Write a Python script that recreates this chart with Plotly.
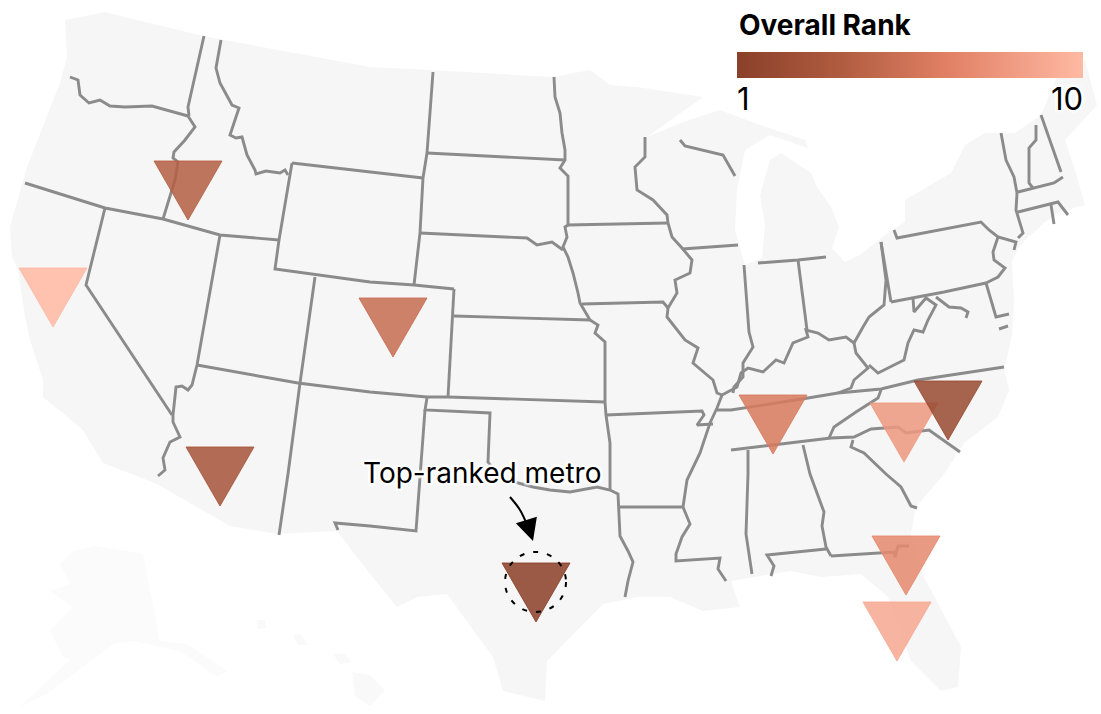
import plotly.graph_objects as go
from plotly.colors import sample_colorscale

# ---- data (map coordinates, y grows downward) ----
metro_names = ["Austin", "Raleigh", "Phoenix", "Boise", "Denver", "Nashville",
               "Jacksonville", "Charlotte", "Tampa", "San Francisco"]
metro_rank = [1, 2, 3, 4, 5, 6, 7, 8, 9, 10]
metro_x = [536, 948, 220, 188, 393, 773, 906, 904, 897, 53]
metro_y = [563, 381, 447, 161, 298, 395, 536, 403, 602, 268]

rank_scale = [[0, "#8a4029"], [0.3, "#b05c40"], [0.6, "#e07f63"], [1, "#ffb9a3"]]

land_conus = [(65,20),(105,12),(203,36),(370,67),(430,70),(553,77),(590,70),(610,85),(637,87),(703,97),(647,137),(683,122),
 (720,110),(760,125),(805,140),(808,148),(770,135),(745,150),(737,190),(735,230),(745,265),(762,258),(765,225),(760,195),
 (770,160),(781,153),(811,173),(817,187),(831,207),(839,227),(832,248),(845,262),(860,255),(885,235),(905,222),(905,200),
 (951,173),(965,145),(985,133),(1015,133),(1041,115),(1060,70),(1085,60),(1097,105),(1065,140),(1075,170),(1085,205),(1060,212),
 (1045,222),(1020,245),(1012,262),(1014,300),(1012,335),(1004,370),(1009,390),(998,417),(964,443),(944,474),(916,507),
 (911,534),(924,577),(961,647),(958,687),(941,691),(911,661),(888,597),(861,574),(821,577),(791,571),(731,581),(740,607),
 (703,611),(670,597),(637,597),(603,604),(547,661),(545,701),(503,691),(493,657),(467,621),(447,594),(417,597),(397,607),
 (370,574),(360,561),(337,531),(277,534),(230,526),(157,484),(103,463),(83,430),(43,397),(43,380),(30,340),(25,317),
 (18,270),(12,257),(10,227),(27,167),(60,83),(67,57)]
land_alaska = [(73,551),(95,546),(143,554),(160,641),(187,644),(227,671),(217,677),(180,651),(133,641),(113,644),(83,667),
 (47,694),(20,707),(70,660),(63,657),(50,631),(73,607),(50,591),(70,584),(60,564)]
land_hawaii_a = [(256,620),(265,620),(266,628),(258,629)]
land_hawaii_b = [(293,635),(300,634),(308,645),(298,645)]
land_hawaii_c = [(333,654),(345,654),(351,662),(340,664)]
land_hawaii_d = [(352,672),(370,675),(385,690),(370,706),(355,696)]

wa_or = [(70,77),(78,80),(80,95),(89,103),(100,100),(110,106),(125,107),(152,106),(188,116)]
wa_id = [(204,36),(188,107),(189,116)]
or_id = [(188,116),(195,127),(185,140),(174,152),(173,158),(178,162),(175,180),(163,219)]
id_mt = [(221,40),(216,68),(220,83),(232,105),(239,108),(233,125),(230,135),(236,138),(242,137),(247,155),(255,170),(256,174),(266,171),(280,173),(285,170),(288,175)]
mt_wy = [(292,163),(423,178)]
wy_west = [(292,163),(279,240),(275,269),(370,282),(414,285),(454,289)]
mt_dakotas = [(433,72),(427,153),(423,178),(420,233),(414,285)]
oregon_south = [(25,183),(105,208),(163,219),(220,235),(279,240)]
nv_ca = [(105,208),(86,285),(172,415)]
ut_west = [(220,235),(197,365),(192,385),(188,390),(182,386),(176,387),(173,415),(173,422),(180,437),(170,442),(163,458),(165,470),(158,476)]
four_corners_lat = [(197,365),(298,383),(370,392),(427,397),(448,397),(605,402)]
ut_co = [(315,277),(300,383),(288,474),(279,535)]
co_east = [(454,289),(448,397)]
ne_ks = [(454,316),(590,320)]
ks_mo = [(590,320),(598,325),(595,333),(605,342),(605,402),(606,415),(610,443),(610,490)]
ok_panhandle = [(427,398),(425,410),(490,413),(488,462),(500,478),(533,487),(550,490),(570,492),(597,487),(610,490),(618,494),(620,536),(628,551),(633,562),(628,581),(625,597)]
nm_east = [(425,410),(420,481),(416,531),(370,526),(335,523),(338,530)]
ar_tx = [(620,507),(683,507)]
la_ms = [(683,507),(690,524),(682,537),(676,554),(676,561),(720,558),(718,569),(726,581)]
mo_ar = [(606,415),(702,411),(704,415),(697,425),(713,424)]
mn_dakotas = [(554,77),(555,97),(560,113),(562,133),(565,150),(565,160),(560,168),(568,176),(568,225),(565,227),(567,237),(563,247),(568,257),(573,273),(578,293),(580,303),(590,320)]
nd_sd = [(427,153),(565,160)]
sd_ne = [(420,233),(527,238),(537,245),(552,242),(563,250)]
ia_north = [(567,225),(668,223)]
mn_wi = [(645,137),(645,157),(635,167),(637,190),(653,200),(667,215),(668,223)]
wi_mi = [(680,140),(685,146),(723,155),(730,167),(735,176)]
mississippi = [(668,223),(672,237),(682,248),(692,260),(690,273),(675,280),(677,293),(668,308),(667,317),(685,340),(698,348),(693,363),(713,380),(717,393),(722,395),(717,408),(710,423),(700,453),(687,480),(683,507)]
ia_mo = [(582,304),(663,302),(668,308)]
il_wi = [(682,249),(738,245)]
il_in = [(744,265),(749,332),(753,347),(743,363),(743,377),(734,387),(733,393)]
ohio_river = [(722,395),(737,387),(741,373),(748,368),(763,372),(776,360),(784,363),(793,343),(808,337),(806,330),(818,333),(829,340),(846,337),(854,343),(863,327),(869,317),(884,305),(886,280),(881,242)]
tn_north = [(717,410),(731,410),(808,398),(838,393),(881,389),(918,380),(1004,367)]
ky_va = [(838,393),(851,388),(854,380),(868,368),(856,353),(854,343)]
wv_va = [(869,365),(878,373),(894,365),(904,360),(908,343),(914,330),(923,332),(928,320),(936,305),(926,298),(914,312),(913,298)]
pa_south = [(891,302),(944,292),(986,283)]
pa_west = [(881,242),(891,302)]
ny_south = [(894,230),(897,238),(981,222),(989,230),(998,237),(1016,242),(1014,250)]
pa_nj = [(998,237),(993,252),(994,260),(1005,268),(998,277),(986,283)]
de_md = [(986,283),(996,317),(1009,314)]
md_va_shore = [(999,329),(1008,326)]
potomac = [(936,297),(949,307),(961,308),(968,312),(966,318)]
nc_tn = [(881,390),(878,398),(856,412),(834,427),(829,438)]
tn_south = [(731,450),(831,438),(854,437),(871,429),(898,427),(906,433),(929,430),(960,452)]
ga_sc = [(853,440),(851,447),(864,453),(881,470),(886,474),(901,487),(911,506),(917,508)]
al_ms = [(748,450),(748,474),(746,534),(752,574)]
al_ga = [(803,445),(810,474),(824,512),(822,526),(826,547),(831,556)]
ga_fl = [(831,556),(883,553),(894,552),(895,557),(898,546),(909,546)]
al_fl = [(826,549),(767,555),(774,566),(771,576)]
ny_vt = [(1001,133),(1006,160),(1014,177),(1017,193),(1016,210),(1023,233),(1018,238)]
vt_nh = [(1036,125),(1036,140),(1029,148),(1029,183),(1033,188)]
nh_me = [(1041,115),(1061,172)]
ma_north = [(1018,192),(1054,183),(1063,177)]
ct_north = [(1018,212),(1058,202),(1068,215)]
ct_ri = [(1051,205),(1054,224)]
in_oh = [(798,260),(807,330)]
in_north = [(758,263),(798,260),(826,257)]

borders = [wa_or, wa_id, or_id, id_mt, mt_wy, wy_west, mt_dakotas, oregon_south, nv_ca, ut_west,
           four_corners_lat, ut_co, co_east, ne_ks, ks_mo, ok_panhandle, nm_east, ar_tx, la_ms, mo_ar,
           mn_dakotas, nd_sd, sd_ne, ia_north, mn_wi, wi_mi, mississippi, ia_mo, il_wi, il_in, ohio_river,
           tn_north, ky_va, wv_va, pa_south, pa_west, ny_south, pa_nj, de_md, md_va_shore, potomac, nc_tn,
           tn_south, ga_sc, al_ms, al_ga, ga_fl, al_fl, ny_vt, vt_nh, nh_me, ma_north, ct_north, ct_ri,
           in_oh, in_north]

FONT = "Inter"
HALO = ",".join(f"{a}px {b}px 2px white" for a in (-2, 0, 2) for b in (-2, 0, 2))

fig = go.Figure()


def add_land(points, color):
    fig.add_trace(go.Scatter(x=[p[0] for p in points], y=[p[1] for p in points], mode="lines",
                             fill="toself", fillcolor=color, line=dict(width=0, color=color),
                             hoverinfo="skip", showlegend=False))


add_land(land_conus, "#f6f6f6")
add_land(land_alaska, "#fbfbfb")
for isle in (land_hawaii_a, land_hawaii_b, land_hawaii_c, land_hawaii_d):
    add_land(isle, "#f9f9f9")

bx, by = [], []
for line in borders:
    bx += [p[0] for p in line] + [None]
    by += [p[1] for p in line] + [None]
fig.add_trace(go.Scatter(x=bx, y=by, mode="lines", line=dict(color="#8b8b8b", width=2.9),
                         hoverinfo="skip", showlegend=False))

# metros: one inverted triangle per metro, coloured by rank through the colour scale
HALF_W, TRI_H = 34, 59
order = sorted(range(len(metro_rank)), key=lambda i: -metro_y[i])
for i in order:
    col = sample_colorscale(rank_scale, (metro_rank[i] - 1) / 9, colortype="rgb")[0]
    fill = col.replace("rgb(", "rgba(").replace(")", ",0.86)")
    x0, y0 = metro_x[i], metro_y[i]
    fig.add_trace(go.Scatter(x=[x0 - HALF_W, x0 + HALF_W, x0, x0 - HALF_W],
                             y=[y0, y0, y0 + TRI_H, y0], mode="lines", fill="toself",
                             fillcolor=fill, line=dict(color=fill, width=1),
                             name=metro_names[i], text=f"{metro_names[i]}: rank {metro_rank[i]}",
                             hoverinfo="text", showlegend=False))

# colour bar
fig.add_trace(go.Scatter(
    x=metro_x, y=metro_y, mode="markers", hoverinfo="skip", showlegend=False,
    marker=dict(size=1, opacity=0, color=metro_rank, cmin=1, cmax=10, colorscale=rank_scale,
                colorbar=dict(orientation="h", lenmode="pixels", len=346, thickness=26,
                              thicknessmode="pixels", x=737 / 1101, xanchor="left",
                              y=1 - 52 / 714, yanchor="top", outlinewidth=0, ticks="",
                              showticklabels=False, xpad=0, ypad=0))))

# curved leader line of the callout
fig.add_trace(go.Scatter(x=[510, 520, 528], y=[497, 510, 527], mode="lines",
                         line=dict(color="black", width=2, shape="spline"),
                         hoverinfo="skip", showlegend=False))

halo_font = dict(family=FONT, color="black", shadow=HALO)
fig.update_layout(
    width=1101, height=714, margin=dict(l=0, r=0, t=0, b=0),
    paper_bgcolor="white", plot_bgcolor="white",
    xaxis=dict(range=[0, 1101], visible=False, fixedrange=True),
    yaxis=dict(range=[714, 0], visible=False, fixedrange=True),
    shapes=[dict(type="circle", xref="x", yref="y", x0=505, x1=566, y0=552, y1=612,
                 line=dict(color="black", width=2, dash="5px,9px"), layer="above")],
    annotations=[
        dict(x=737, y=25, xref="x", yref="y", text="<b>Overall Rank</b>", showarrow=False,
             xanchor="left", yanchor="middle", font=dict(family=FONT, size=28, color="black")),
        dict(x=735, y=98, xref="x", yref="y", text="1", showarrow=False, xanchor="left",
             yanchor="middle", font=dict(size=31, **halo_font)),
        dict(x=1085, y=98, xref="x", yref="y", text="10", showarrow=False, xanchor="right",
             yanchor="middle", font=dict(size=31, **halo_font)),
        dict(x=482, y=473, xref="x", yref="y", text="Top-ranked metro", showarrow=False,
             xanchor="center", yanchor="middle", font=dict(size=28, **halo_font)),
        dict(x=533, y=541, ax=527, ay=522, xref="x", yref="y", axref="x", ayref="y", text="",
             showarrow=True, arrowhead=2, arrowsize=2, arrowwidth=2.2, arrowcolor="black"),
    ],
)

fig.write_html("out.html", post_script="document.body.style.margin='0';",
               config={"displayModeBar": False})
